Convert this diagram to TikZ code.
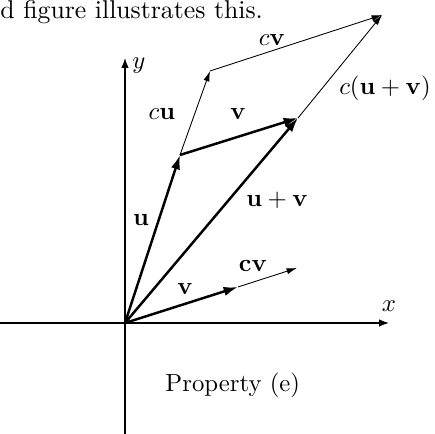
\documentclass[tikz,border=0pt]{standalone}
\usetikzlibrary{arrows.meta}
\begin{document}
\begin{tikzpicture}[x=0.404pt,y=-0.404pt,
  axis/.style={line width=0.5pt,-{Latex[length=4pt,width=3pt]}},
  bigvec/.style={line width=1pt,-{Latex[length=5.8pt,width=3.8pt]}},
  smallvec/.style={line width=0.35pt,-{Latex[length=4.2pt,width=2.5pt]}},
  lbl/.style={inner sep=0pt}]
\useasboundingbox (0,0) rectangle (435,434);
% points
\coordinate (O) at (125,323);
\coordinate (U) at (180,155);
\coordinate (UV) at (298,118);
\coordinate (CU) at (210,71);
\coordinate (CUV) at (382,15);
\coordinate (V) at (238,287);
\coordinate (CV) at (297,268);
\coordinate (XL) at (0,323);
\coordinate (XR) at (389,323);
\coordinate (YB) at (125,434);
\coordinate (YT) at (125,58);
% axes
\draw[axis] (XL) -- (XR);
\draw[axis] (YB) -- (YT);
\node[lbl] (xlab) at (389,306) {$x$};
\node[lbl] (ylab) at (139,66) {$y$};
% thin vectors
\draw[smallvec] (U) -- (CU);
\draw[smallvec] (CU) -- (CUV);
\draw[smallvec] (UV) -- (CUV);
\draw[smallvec] (V) -- (CV);
% thick vectors
\draw[bigvec] (O) -- (U);
\draw[bigvec] (U) -- (UV);
\draw[bigvec] (O) -- (UV);
\draw[bigvec] (O) -- (V);
% labels
\node[lbl] (lcu) at (162,114) {$c\mathbf{u}$};
\node[lbl] (lv1) at (238,114) {$\mathbf{v}$};
\node[lbl] (lcv1) at (272,40) {$c\mathbf{v}$};
\node[lbl] (lcuv) at (385,88) {$c(\mathbf{u}+\mathbf{v})$};
\node[lbl] (luv) at (277,200) {$\mathbf{u}+\mathbf{v}$};
\node[lbl] (lu) at (141,220) {$\mathbf{u}$};
\node[lbl] (lv2) at (185,289) {$\mathbf{v}$};
\node[lbl] (lcv2) at (253,266) {$\mathbf{cv}$};
\node[lbl,anchor=base west] (prop) at (165,392) {Property (e)};
\node[lbl,anchor=base west] (top) at (0,19) {\fontsize{10.4}{12}\selectfont d figure illustrates this.};
\end{tikzpicture}
\end{document}
